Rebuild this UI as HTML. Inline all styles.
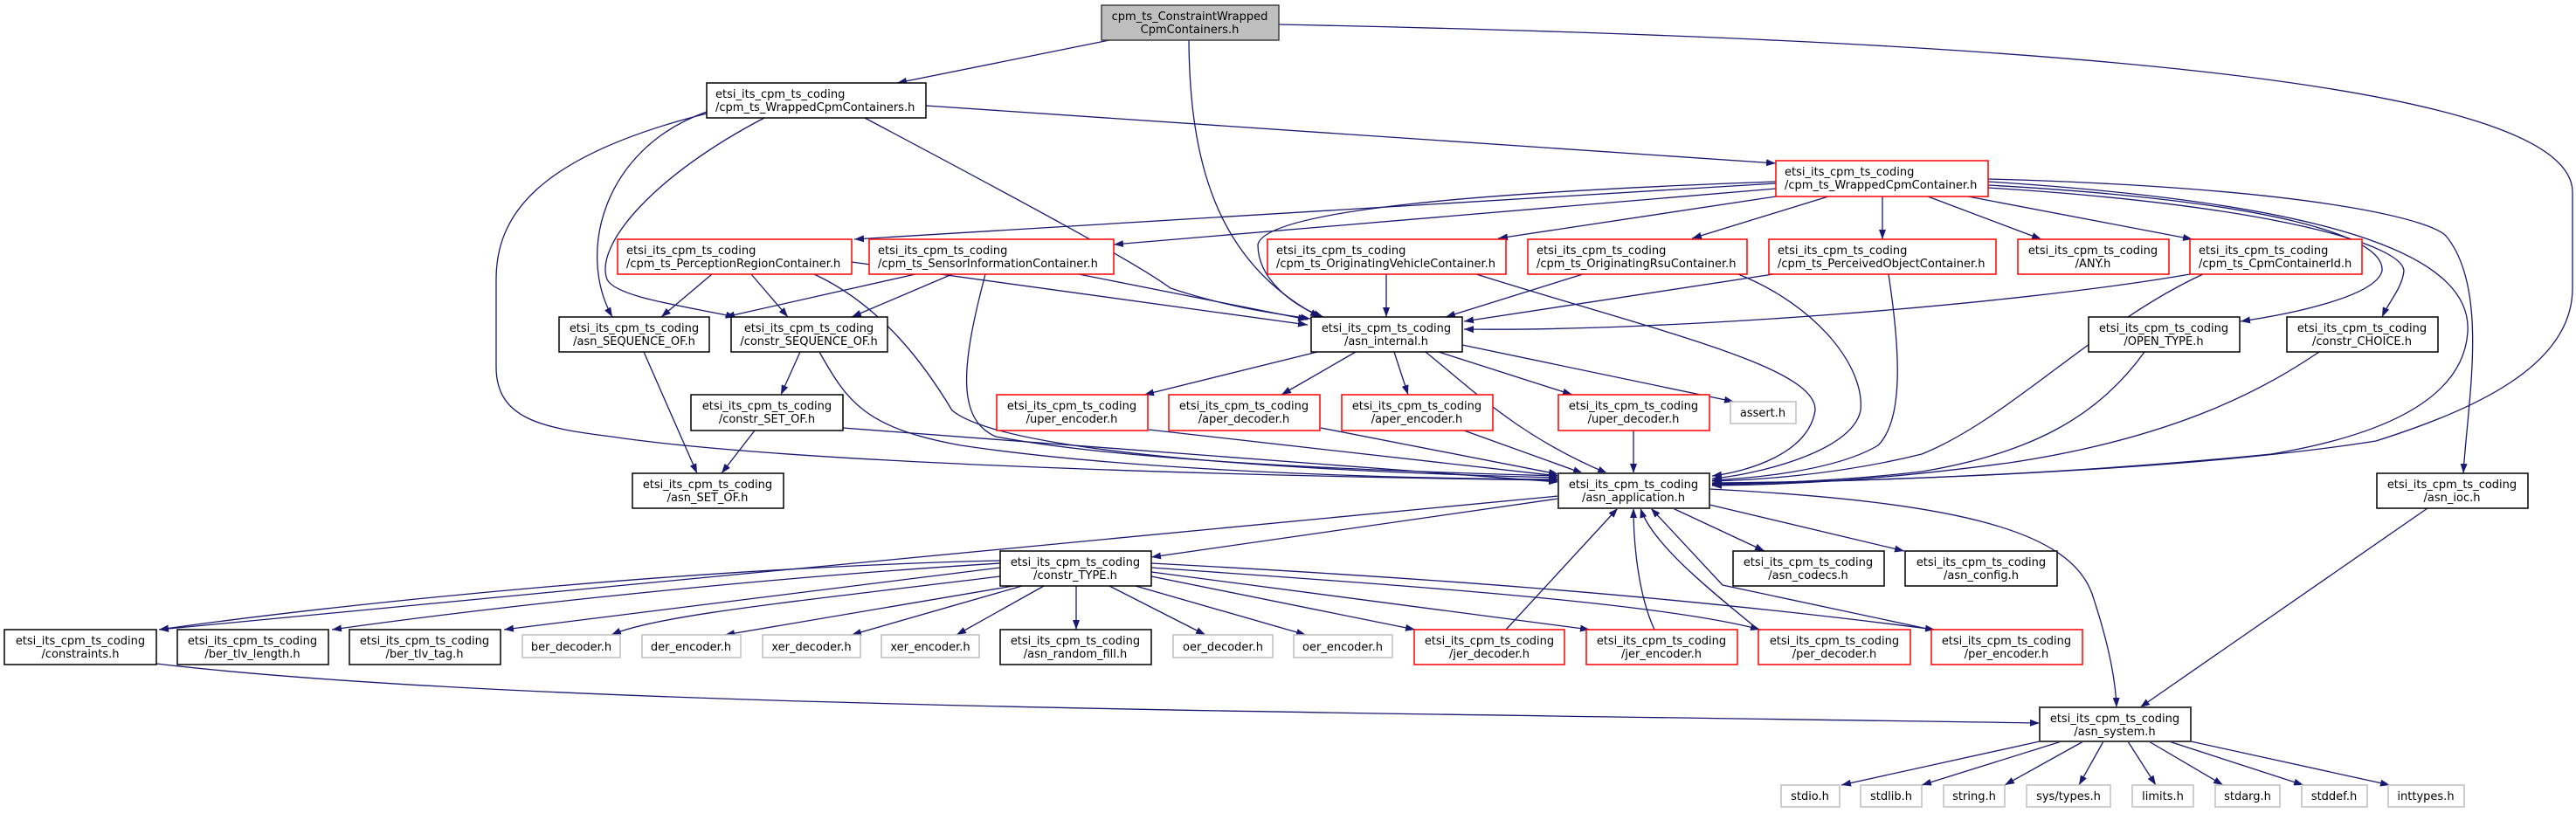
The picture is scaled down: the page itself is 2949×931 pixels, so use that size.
<!DOCTYPE html>
<html><head><meta charset="utf-8"><style>html,body{margin:0;padding:0;background:#fff}svg{display:block}text{font-family:"DejaVu Sans","Liberation Sans",sans-serif;font-size:13px;fill:#000}</style></head><body>
<svg width="2949" height="931" viewBox="0 0 2949 931" xmlns="http://www.w3.org/2000/svg">
<defs><marker id="a" markerWidth="11" markerHeight="8" refX="11" refY="4" orient="auto" markerUnits="userSpaceOnUse"><path d="M0,0L11,4L0,8z" fill="#191970"/></marker></defs>
<g fill="none" stroke="#191970" stroke-width="1.3" marker-end="url(#a)">
<path d="M1270,46L1027,95"/>
<path d="M1361,46C1362,180 1390,300 1511,363"/>
<path d="M1464,28C2300,45 2945,90 2945,220L2945,330C2945,420 2830,470 2720,505C2500,540 2150,550 1960,555"/>
<path d="M1060,121L2033,187"/>
<path d="M809,128C690,170 660,290 701,363"/>
<path d="M875,135C750,200 680,280 695,320C705,340 780,350 842,363"/>
<path d="M809,130C610,180 568,250 568,320L568,420C568,480 620,490 700,500C900,530 1400,545 1784,550"/>
<path d="M990,135C1150,220 1300,300 1340,330C1400,350 1450,358 1500,365"/>
<path d="M2033,210L978,274"/>
<path d="M2033,216L1275,280"/>
<path d="M2033,208C1700,220 1450,240 1440,280C1440,320 1480,350 1515,363"/>
<path d="M2033,225L1715,273"/>
<path d="M2093,225L1937,273"/>
<path d="M2155,225L2155,274"/>
<path d="M2207,225L2337,274"/>
<path d="M2253,225L2510,274"/>
<path d="M2276,212C2600,230 2730,270 2727,310C2720,340 2620,360 2565,368"/>
<path d="M2276,215C2600,235 2750,280 2752,310C2750,330 2735,345 2727,363"/>
<path d="M2276,205C2640,215 2780,250 2800,270C2850,330 2825,460 2820,542"/>
<path d="M2276,208C2700,235 2830,300 2825,380C2820,460 2720,500 2600,520C2350,545 2100,552 1960,553"/>
<path d="M815,314L757,363"/>
<path d="M860,314L902,363"/>
<path d="M975,300L1497,372"/>
<path d="M932,314C1010,350 1060,420 1090,470C1150,520 1500,540 1784,547"/>
<path d="M1048,314L830,363"/>
<path d="M1090,314L975,363"/>
<path d="M1235,314L1497,366"/>
<path d="M1128,314C1100,420 1095,480 1140,500C1300,530 1600,540 1784,545"/>
<path d="M1587,314L1587,363"/>
<path d="M1690,314C1900,380 2080,420 2078,470C2070,520 2000,540 1960,545"/>
<path d="M1812,314L1655,363"/>
<path d="M1990,314C2080,350 2135,420 2130,470C2120,520 2000,545 1960,548"/>
<path d="M2030,314L1676,368"/>
<path d="M2162,314C2175,400 2180,480 2150,510C2100,540 2000,548 1960,550"/>
<path d="M2507,314C2300,350 1900,380 1676,377"/>
<path d="M2522,314C2400,370 2300,480 2200,520C2100,545 2000,550 1960,551"/>
<path d="M2455,403C2400,480 2320,520 2200,540C2100,552 2000,554 1960,554"/>
<path d="M2655,403C2600,440 2500,500 2300,530C2150,550 2050,555 1960,556"/>
<path d="M1508,403L1310,452"/>
<path d="M1552,403L1467,452"/>
<path d="M1596,403L1612,452"/>
<path d="M1647,403L1800,452"/>
<path d="M1674,395L1985,460"/>
<path d="M1632,403C1690,450 1740,500 1840,542"/>
<path d="M1315,492L1784,545"/>
<path d="M1512,490L1784,543"/>
<path d="M1676,493L1812,542"/>
<path d="M1870,493L1870,542"/>
<path d="M916,403L894,452"/>
<path d="M938,403C970,460 990,490 1100,510C1300,540 1600,548 1784,549"/>
<path d="M737,403L798,542"/>
<path d="M864,493L826,542"/>
<path d="M965,490L1784,552"/>
<path d="M1784,571L1318,638"/>
<path d="M1915,582L2020,631"/>
<path d="M1957,578L2180,631"/>
<path d="M1957,560C2250,575 2370,610 2395,680C2415,740 2422,780 2423,810"/>
<path d="M1784,568L182,721"/>
<path d="M1145,642C800,650 400,690 182,721"/>
<path d="M1145,645C900,660 600,690 380,721"/>
<path d="M1145,650L577,721"/>
<path d="M1145,660C900,690 750,705 700,727"/>
<path d="M1160,671L830,727"/>
<path d="M1170,671L975,727"/>
<path d="M1195,671L1095,727"/>
<path d="M1232,671L1232,721"/>
<path d="M1270,671L1380,727"/>
<path d="M1300,671L1495,727"/>
<path d="M1318,660L1620,721"/>
<path d="M1318,655L1820,721"/>
<path d="M1318,650C1600,670 1900,690 2015,721"/>
<path d="M1318,645C1600,660 1900,680 2215,721"/>
<path d="M1724,721L1852,582"/>
<path d="M1894,721C1875,680 1870,620 1870,582"/>
<path d="M2013,721C1950,670 1890,620 1878,582"/>
<path d="M2211,721L1972,670L1890,582"/>
<path d="M179,760C600,810 1500,815 2335,828"/>
<path d="M2779,582L2450,810"/>
<path d="M2335,849L2108,899"/>
<path d="M2360,849L2200,899"/>
<path d="M2385,849L2295,899"/>
<path d="M2408,849L2380,899"/>
<path d="M2436,849L2468,899"/>
<path d="M2460,849L2545,899"/>
<path d="M2483,849L2637,899"/>
<path d="M2508,849L2736,899"/>
</g>
<g stroke-width="1.5">
<rect x="1261" y="6" width="203" height="40" fill="#bfbfbf" stroke="#404040"/>
<g fill="#fff" stroke="#000">
<rect x="809" y="95" width="251" height="40"/>
<rect x="640" y="363" width="172" height="40"/>
<rect x="837" y="363" width="179" height="40"/>
<rect x="791" y="452" width="174" height="41"/>
<rect x="724" y="542" width="173" height="40"/>
<rect x="1501" y="363" width="173" height="40"/>
<rect x="2391" y="363" width="173" height="40"/>
<rect x="2618" y="363" width="173" height="40"/>
<rect x="1145" y="631" width="173" height="40"/>
<rect x="1984" y="631" width="173" height="40"/>
<rect x="2181" y="631" width="174" height="40"/>
<rect x="2721" y="542" width="173" height="40"/>
<rect x="5" y="721" width="174" height="40"/>
<rect x="203" y="721" width="173" height="40"/>
<rect x="400" y="721" width="173" height="40"/>
<rect x="1145" y="721" width="173" height="40"/>
<rect x="1784" y="542" width="173" height="40" stroke="#404040" stroke-width="2"/>
<rect x="2335" y="810" width="173" height="39" stroke="#404040" stroke-width="2"/>
</g>
<g fill="#fff" stroke="#f00">
<rect x="2033" y="184" width="243" height="41"/>
<rect x="707" y="274" width="268" height="40"/>
<rect x="995" y="274" width="280" height="40"/>
<rect x="1451" y="274" width="273" height="40"/>
<rect x="1749" y="274" width="251" height="40"/>
<rect x="2025" y="274" width="260" height="40"/>
<rect x="2310" y="274" width="173" height="40"/>
<rect x="2507" y="274" width="197" height="40"/>
<rect x="1141" y="452" width="173" height="41"/>
<rect x="1338" y="452" width="173" height="41"/>
<rect x="1536" y="452" width="173" height="41"/>
<rect x="1784" y="452" width="173" height="41"/>
<rect x="1619" y="721" width="172" height="40"/>
<rect x="1816" y="721" width="173" height="40"/>
<rect x="2013" y="721" width="174" height="40"/>
<rect x="2211" y="721" width="173" height="40"/>
</g>
<g fill="#fff" stroke="#bfbfbf">
<rect x="1981" y="460" width="75" height="25"/>
<rect x="598" y="727" width="112" height="26"/>
<rect x="735" y="727" width="113" height="26"/>
<rect x="873" y="727" width="112" height="26"/>
<rect x="1009" y="727" width="112" height="26"/>
<rect x="1343" y="727" width="114" height="26"/>
<rect x="1481" y="727" width="113" height="26"/>
<rect x="2039" y="899" width="67" height="25"/>
<rect x="2130" y="899" width="70" height="25"/>
<rect x="2225" y="899" width="70" height="25"/>
<rect x="2320" y="899" width="96" height="25"/>
<rect x="2441" y="899" width="70" height="25"/>
<rect x="2536" y="899" width="74" height="25"/>
<rect x="2635" y="899" width="75" height="25"/>
<rect x="2734" y="899" width="87" height="25"/>
</g>
</g>
<g text-anchor="middle">
<text x="1362" y="23">cpm_ts_ConstraintWrapped</text><text x="1362" y="38">CpmContainers.h</text>
</g>
<g>
<text x="819" y="112">etsi_its_cpm_ts_coding</text><text x="819" y="127">/cpm_ts_WrappedCpmContainers.h</text>
<text x="2043" y="201">etsi_its_cpm_ts_coding</text><text x="2043" y="216">/cpm_ts_WrappedCpmContainer.h</text>
<text x="717" y="291">etsi_its_cpm_ts_coding</text><text x="717" y="306">/cpm_ts_PerceptionRegionContainer.h</text>
<text x="1005" y="291">etsi_its_cpm_ts_coding</text><text x="1005" y="306">/cpm_ts_SensorInformationContainer.h</text>
<text x="1461" y="291">etsi_its_cpm_ts_coding</text><text x="1461" y="306">/cpm_ts_OriginatingVehicleContainer.h</text>
<text x="1759" y="291">etsi_its_cpm_ts_coding</text><text x="1759" y="306">/cpm_ts_OriginatingRsuContainer.h</text>
<text x="2035" y="291">etsi_its_cpm_ts_coding</text><text x="2035" y="306">/cpm_ts_PerceivedObjectContainer.h</text>
<text x="2517" y="291">etsi_its_cpm_ts_coding</text><text x="2517" y="306">/cpm_ts_CpmContainerId.h</text>
</g>
<g text-anchor="middle">
<text x="2396" y="291">etsi_its_cpm_ts_coding</text><text x="2396" y="306">/ANY.h</text>
<text x="726" y="380">etsi_its_cpm_ts_coding</text><text x="726" y="395">/asn_SEQUENCE_OF.h</text>
<text x="926" y="380">etsi_its_cpm_ts_coding</text><text x="926" y="395">/constr_SEQUENCE_OF.h</text>
<text x="1587" y="380">etsi_its_cpm_ts_coding</text><text x="1587" y="395">/asn_internal.h</text>
<text x="2477" y="380">etsi_its_cpm_ts_coding</text><text x="2477" y="395">/OPEN_TYPE.h</text>
<text x="2704" y="380">etsi_its_cpm_ts_coding</text><text x="2704" y="395">/constr_CHOICE.h</text>
<text x="878" y="469">etsi_its_cpm_ts_coding</text><text x="878" y="484">/constr_SET_OF.h</text>
<text x="1227" y="469">etsi_its_cpm_ts_coding</text><text x="1227" y="484">/uper_encoder.h</text>
<text x="1424" y="469">etsi_its_cpm_ts_coding</text><text x="1424" y="484">/aper_decoder.h</text>
<text x="1622" y="469">etsi_its_cpm_ts_coding</text><text x="1622" y="484">/aper_encoder.h</text>
<text x="1870" y="469">etsi_its_cpm_ts_coding</text><text x="1870" y="484">/uper_decoder.h</text>
<text x="2018" y="477">assert.h</text>
<text x="810" y="559">etsi_its_cpm_ts_coding</text><text x="810" y="574">/asn_SET_OF.h</text>
<text x="1870" y="559">etsi_its_cpm_ts_coding</text><text x="1870" y="574">/asn_application.h</text>
<text x="2807" y="559">etsi_its_cpm_ts_coding</text><text x="2807" y="574">/asn_ioc.h</text>
<text x="1231" y="648">etsi_its_cpm_ts_coding</text><text x="1231" y="663">/constr_TYPE.h</text>
<text x="2070" y="648">etsi_its_cpm_ts_coding</text><text x="2070" y="663">/asn_codecs.h</text>
<text x="2268" y="648">etsi_its_cpm_ts_coding</text><text x="2268" y="663">/asn_config.h</text>
<text x="92" y="738">etsi_its_cpm_ts_coding</text><text x="92" y="753">/constraints.h</text>
<text x="289" y="738">etsi_its_cpm_ts_coding</text><text x="289" y="753">/ber_tlv_length.h</text>
<text x="486" y="738">etsi_its_cpm_ts_coding</text><text x="486" y="753">/ber_tlv_tag.h</text>
<text x="1231" y="738">etsi_its_cpm_ts_coding</text><text x="1231" y="753">/asn_random_fill.h</text>
<text x="1705" y="738">etsi_its_cpm_ts_coding</text><text x="1705" y="753">/jer_decoder.h</text>
<text x="1902" y="738">etsi_its_cpm_ts_coding</text><text x="1902" y="753">/jer_encoder.h</text>
<text x="2100" y="738">etsi_its_cpm_ts_coding</text><text x="2100" y="753">/per_decoder.h</text>
<text x="2297" y="738">etsi_its_cpm_ts_coding</text><text x="2297" y="753">/per_encoder.h</text>
<text x="654" y="745">ber_decoder.h</text>
<text x="791" y="745">der_encoder.h</text>
<text x="929" y="745">xer_decoder.h</text>
<text x="1065" y="745">xer_encoder.h</text>
<text x="1400" y="745">oer_decoder.h</text>
<text x="1537" y="745">oer_encoder.h</text>
<text x="2421" y="827">etsi_its_cpm_ts_coding</text><text x="2421" y="842">/asn_system.h</text>
<text x="2072" y="916">stdio.h</text>
<text x="2165" y="916">stdlib.h</text>
<text x="2260" y="916">string.h</text>
<text x="2368" y="916">sys/types.h</text>
<text x="2476" y="916">limits.h</text>
<text x="2573" y="916">stdarg.h</text>
<text x="2672" y="916">stddef.h</text>
<text x="2777" y="916">inttypes.h</text>
</g>
</svg>
</body></html>
